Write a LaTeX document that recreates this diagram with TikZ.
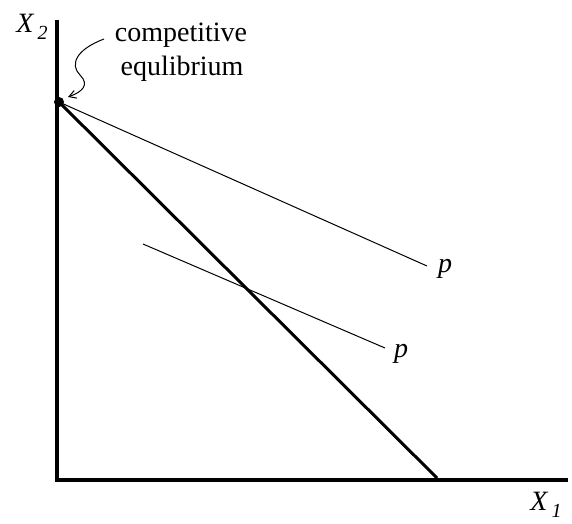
\documentclass[tikz,border=0pt]{standalone}
\usepackage{fontspec}
\setmainfont{Liberation Serif}
\usetikzlibrary{arrows.meta}
\begin{document}
\begin{tikzpicture}[x=1pt,y=-1pt,
  lbl/.style={inner sep=0pt,font=\fontsize{28}{32}\selectfont},
  axis/.style={line width=4.5pt,line cap=rect},
  budget/.style={line width=3pt},
  thinline/.style={line width=1pt}]
\useasboundingbox (0,0) rectangle (572,523);
\coordinate (top) at (57,22);
\coordinate (orig) at (57,480);
\coordinate (right) at (566,480);
\draw[axis] (top) -- (orig) -- (right);
\coordinate (eq) at (59,102);
\coordinate (bend) at (437,478);
\draw[budget] (eq) -- (bend);
\coordinate (p1end) at (427,266);
\draw[thinline] (eq) -- (p1end);
\coordinate (p2start) at (143,244);
\coordinate (p2end) at (385,348);
\draw[thinline] (p2start) -- (p2end);
\fill (eq) circle (5pt);
\node[lbl,anchor=center] (p1) at (445,269) {\itshape p};
\node[lbl,anchor=center] (p2) at (401,354) {\itshape p};
\node[lbl] (ce1) at (181,35) {competitive};
\node[lbl] (ce2) at (182,69) {equlibrium};
\coordinate (cs) at (104,39);
\draw[thinline,-{Straight Barb[length=7pt,width=8pt]}] (cs) .. controls (75,50) and (70,65) .. (80,75) .. controls (90,85) and (82,92) .. (68,97);
\node[lbl] (x2) at (32,27) {\itshape X\hspace{4pt}\raisebox{-7pt}{\fontsize{20}{20}\selectfont 2}};
\node[lbl] (x1) at (546,505) {\itshape X\hspace{4pt}\raisebox{-7pt}{\fontsize{20}{20}\selectfont 1}};
\end{tikzpicture}
\end{document}
